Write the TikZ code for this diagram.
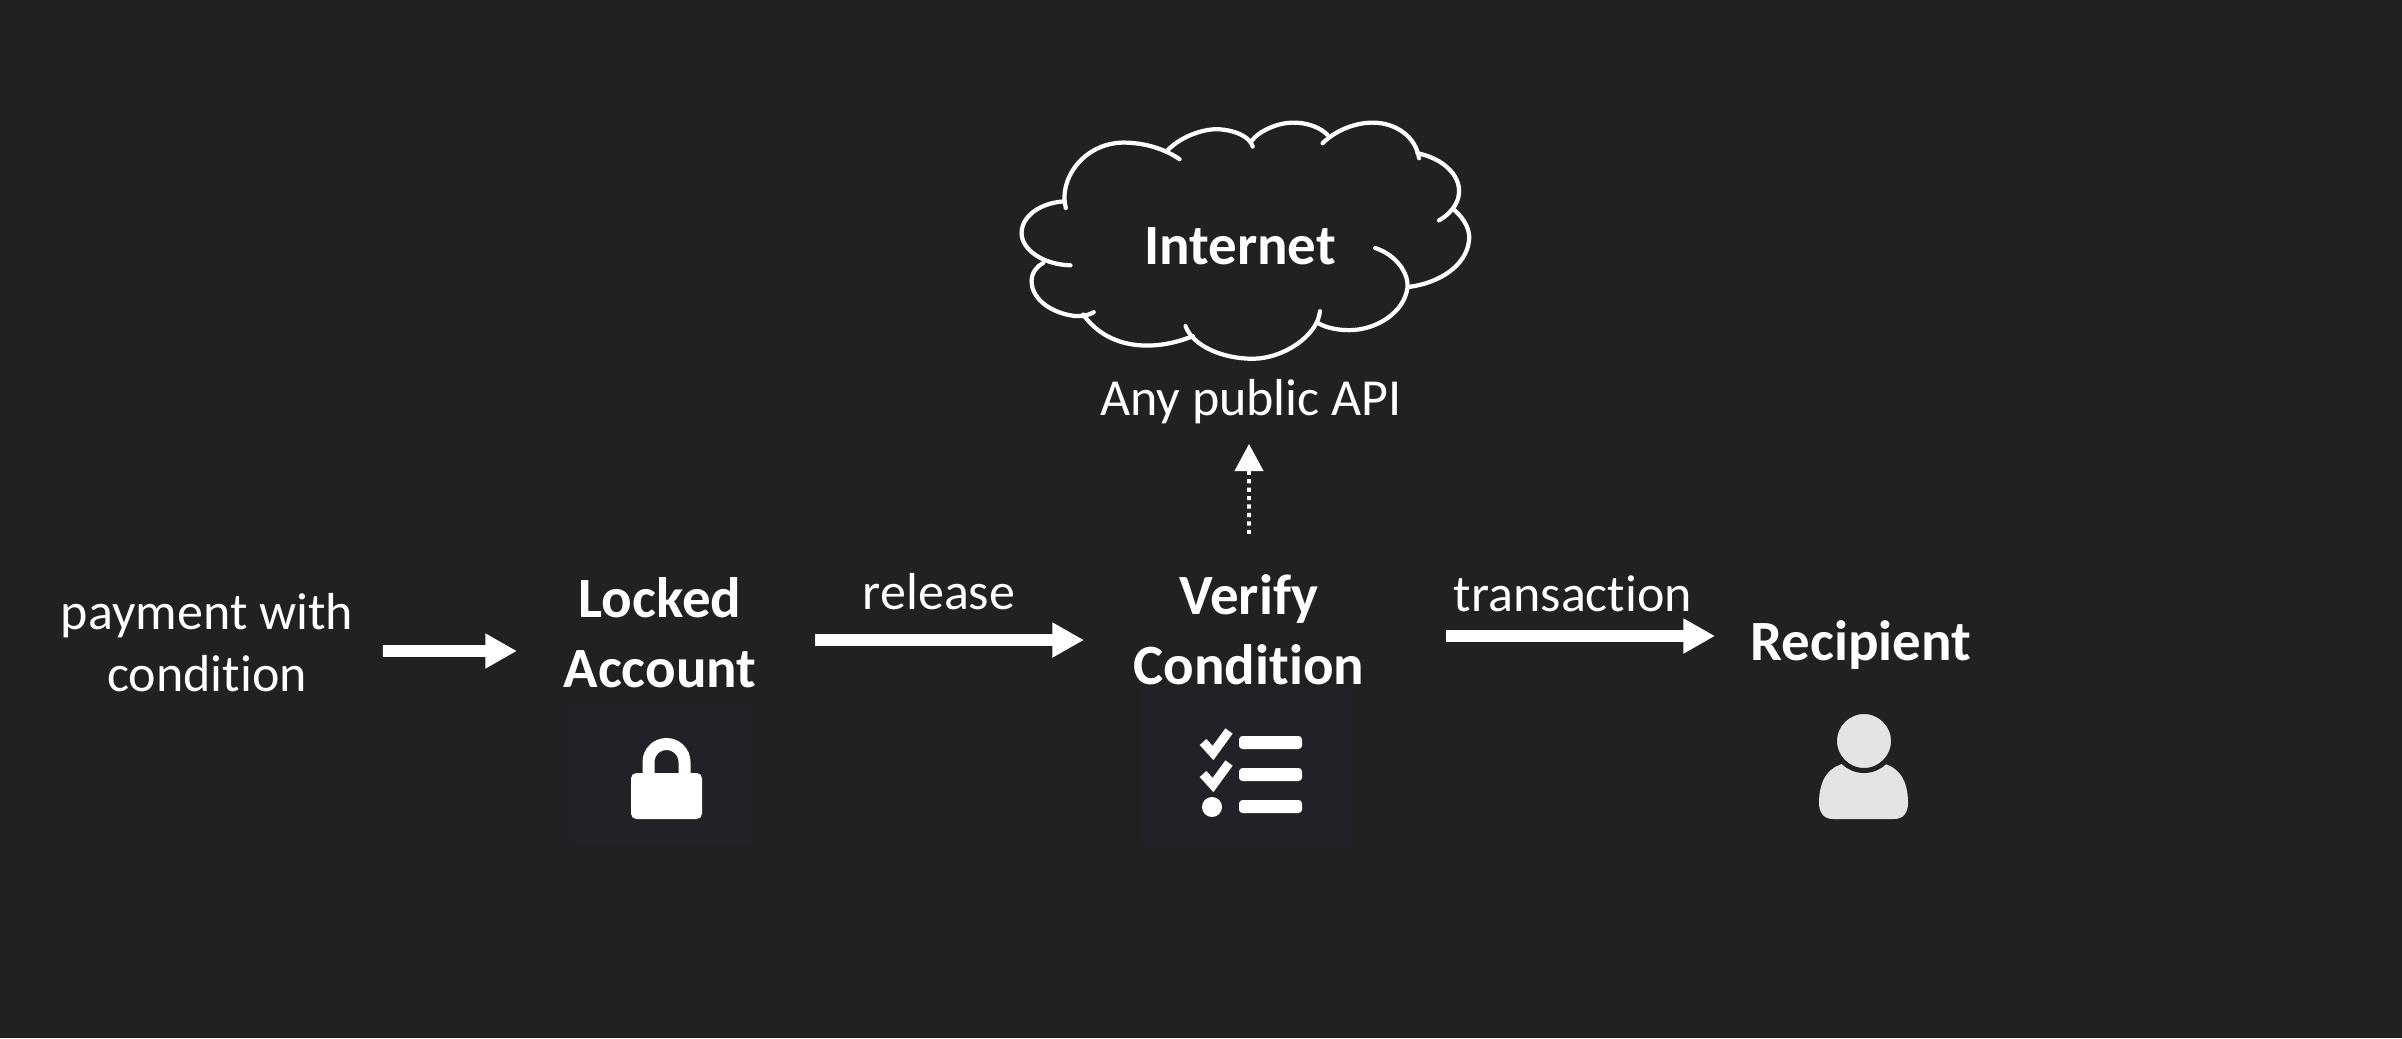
\documentclass[tikz,border=0pt]{standalone}
\usepackage{fontspec}
\setmainfont[Ligatures=NoCommon]{Carlito}
\usetikzlibrary{arrows.meta}
\definecolor{MDark}{HTML}{212121}
\definecolor{MPanel}{HTML}{212228}
\definecolor{MPerson}{HTML}{E4E4E4}
\tikzset{
	plain/.style={white, inner sep=0pt, align=center, font=\fontsize{14.8}{17.6}\selectfont},
	bold/.style={plain, font=\fontsize{16.2}{20}\selectfont\bfseries},
	flow/.style={white, line width=3.3pt, -{Triangle[length=9pt,width=9.4pt]}},
	probe/.style={white, line width=1.1pt, dash pattern=on 1.2pt off 1.2pt, -{Triangle[length=7.7pt,width=8pt]}},
	puff/.style={white, line width=1.2pt, line cap=round}
}

\begin{document}
\begin{tikzpicture}
			\fill[MDark] (0,0) rectangle (24.02,10.38);
			\fill[MPanel] (5.70,1.93) rectangle (7.53,3.35);
			\fill[MPanel] (11.41,1.91) rectangle (13.53,3.51);
			
			\node[plain] (pay) at (2.07,3.95) {payment with\\condition};
			\node[bold] (locked) at (6.60,4.05) {Locked\\Account};
			\node[plain] (release) at (9.39,4.46) {release};
			\node[bold] (verify) at (12.49,4.08) {Verify\\Condition};
			\node[plain] (trans) at (15.73,4.44) {transaction};
			\node[bold] (recipient) at (18.61,3.93) {Recipient};
			\node[bold] (internet) at (12.40,7.92) {Internet};
			\node[plain] (api) at (12.51,6.36) {Any public API};
			
			\draw[flow] ([shift={(0.29,-0.08)}]pay.east) -- ([shift={(-0.46,-0.18)}]locked.west);
			\draw[flow] ([shift={(0.58,-0.07)}]locked.east) -- ([shift={(-0.49,-0.10)}]verify.west);
			\draw[flow] ([shift={(0.81,-0.06)}]verify.east) -- ([shift={(-0.35,0.09)}]recipient.west);
			\draw[probe] ([yshift=0.40cm]verify.north) -- ([shift={(-0.02,-0.19)}]api.south);
			
			\fill[white, rounded corners=1.5pt] (6.31,2.19) rectangle (7.02,2.65);
			\draw[white, line width=0.12cm] (6.485,2.62) -- (6.485,2.76) arc (180:0:0.18) -- (6.845,2.62);
			
			\draw[white, line width=0.09cm] (12.03,2.96) -- (12.13,2.85) -- (12.29,3.07);
			\draw[white, line width=0.09cm] (12.03,2.64) -- (12.13,2.53) -- (12.29,2.75);
			\fill[white] (12.12,2.31) circle (0.1);
			\fill[white, rounded corners=1pt] (12.39,2.89) rectangle (13.02,3.02);
			\fill[white, rounded corners=1pt] (12.39,2.57) rectangle (13.02,2.70);
			\fill[white, rounded corners=1pt] (12.39,2.25) rectangle (13.02,2.38);
			
			\fill[MPerson] (18.33,2.19) .. controls (18.24,2.19) and (18.19,2.25) .. (18.19,2.35) .. controls (18.19,2.60) and (18.30,2.72) .. (18.46,2.75) -- (18.81,2.75) .. controls (18.97,2.72) and (19.08,2.60) .. (19.08,2.35) .. controls (19.08,2.25) and (19.03,2.19) .. (18.94,2.19) -- cycle;
			\draw[MDark, fill=MPerson, line width=0.05cm] (18.64,2.97) circle (0.295);
			
			\begin{scope}[shift={(9.80,9.38)}, x=0.003333cm, y=-0.003333cm]
				\draw[puff] (258,325) .. controls (235,240) and (310,130) .. (430,128) .. controls (500,128) and (560,150) .. (600,178);
				\draw[puff] (565,150) .. controls (610,105) and (680,85) .. (720,88) .. controls (770,92) and (810,110) .. (820,140);
				\draw[puff] (815,125) .. controls (840,90) and (900,68) .. (940,68) .. controls (990,68) and (1025,85) .. (1045,105);
				\draw[puff] (1030,130) .. controls (1070,90) and (1130,68) .. (1180,68) .. controls (1250,68) and (1310,110) .. (1320,175);
				\draw[puff] (1315,160) .. controls (1390,175) and (1445,225) .. (1440,280) .. controls (1438,315) and (1410,345) .. (1380,362);
				\draw[puff] (1425,330) .. controls (1460,360) and (1475,395) .. (1470,425) .. controls (1460,500) and (1380,550) .. (1290,562);
				\draw[puff] (1188,445) .. controls (1250,465) and (1290,520) .. (1285,565) .. controls (1275,640) and (1190,692) .. (1110,692) .. controls (1075,692) and (1040,685) .. (1015,670);
				\draw[puff] (1022,635) .. controls (1015,710) and (910,778) .. (820,778) .. controls (730,778) and (640,740) .. (618,680);
				\draw[puff] (640,710) .. controls (590,730) and (540,740) .. (490,738) .. controls (410,735) and (350,700) .. (310,645);
				\draw[puff] (342,638) .. controls (320,650) and (300,652) .. (275,648) .. controls (200,635) and (155,590) .. (155,545) .. controls (155,520) and (170,500) .. (190,490);
				\draw[puff] (272,497) .. controls (190,495) and (125,450) .. (125,400) .. controls (125,350) and (180,310) .. (250,305);
			\end{scope}
		\end{tikzpicture}
\end{document}
